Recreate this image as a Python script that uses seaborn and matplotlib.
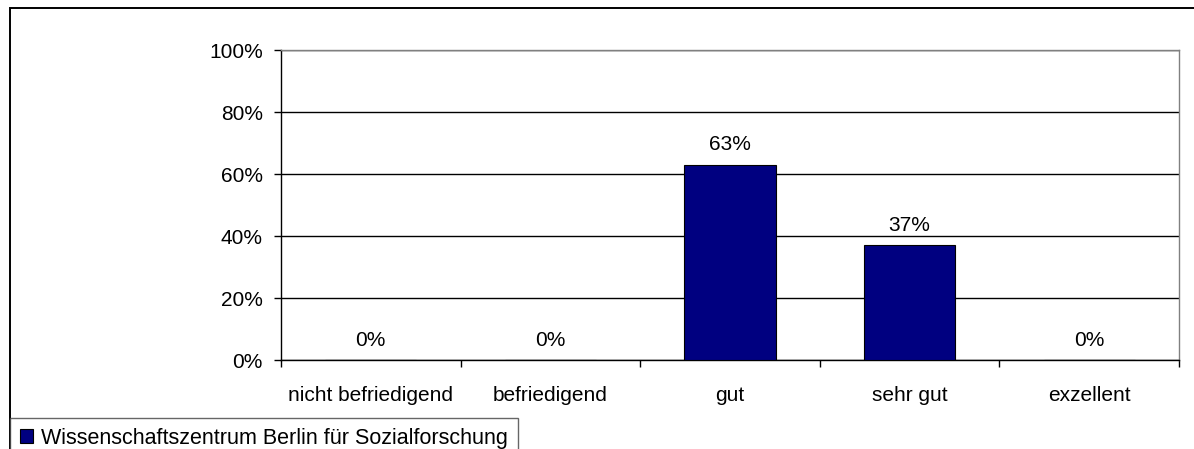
import matplotlib
matplotlib.use("Agg")
import matplotlib.pyplot as plt
from matplotlib.patches import Patch, Rectangle
import seaborn as sns
import pandas as pd

# Rating categories and share of responses (%)
categories = ["nicht befriedigend", "befriedigend", "gut", "sehr gut", "exzellent"]
shares = [0, 0, 63, 37, 0]
series_name = "Wissenschaftszentrum Berlin für Sozialforschung"
y_ticks = [0, 20, 40, 60, 80, 100]
y_tick_labels = [f"{v}%" for v in y_ticks]

sns.set_style("white")
plt.rcParams["font.family"] = ["Liberation Sans", "DejaVu Sans"]
plt.rcParams["text.color"] = "black"
plt.rcParams["xtick.labelcolor"] = "black"
plt.rcParams["ytick.labelcolor"] = "black"

W, H = 1194, 449
fig = plt.figure(figsize=(W / 100, H / 100), dpi=100)

# outer chart frame
fig.patches.append(Rectangle((10 / W, -0.2), 2.0, 1.2 - 8 / H, transform=fig.transFigure,
                             fill=False, edgecolor="black", linewidth=1.4, zorder=0))

ax = fig.add_axes([281 / W, 1 - 360 / H, (1179 - 281) / W, (360 - 50) / H])
df = pd.DataFrame({"Kategorie": categories, "Anteil": shares})
sns.barplot(data=df, x="Kategorie", y="Anteil", color="#000080", saturation=1,
            width=0.507, edgecolor="black", linewidth=0.8, ax=ax, zorder=3)

ax.set_xlim(-0.5, len(categories) - 0.5)
ax.set_ylim(0, 100)
ax.set_xlabel("")
ax.set_ylabel("")

# y axis
ax.set_yticks(y_ticks)
ax.set_yticklabels(y_tick_labels, fontsize=15, color="black")
ax.yaxis.grid(True, color="black", linewidth=1.0)
ax.set_axisbelow(True)
ax.tick_params(axis="y", which="major", direction="out", length=5, width=1,
               color="black", pad=8, left=True)

# x axis: ticks on category boundaries, labels centred under categories
ax.set_xticks([i - 0.5 for i in range(len(categories) + 1)])
ax.set_xticklabels([])
ax.set_xticks(range(len(categories)), minor=True)
ax.set_xticklabels(categories, minor=True, fontsize=15, color="black")
ax.tick_params(axis="x", which="major", direction="out", length=5, width=1,
               color="black", bottom=True)
ax.tick_params(axis="x", which="minor", length=0, pad=19)

for side in ("left", "bottom"):
    ax.spines[side].set_color("black")
    ax.spines[side].set_linewidth(1.0)
for side in ("top", "right"):
    ax.spines[side].set_visible(True)
    ax.spines[side].set_color("#808080")
    ax.spines[side].set_linewidth(1.0)

# value labels
for i, v in enumerate(shares):
    ax.annotate(f"{v}%", (i, v), xytext=(0, 20), textcoords="offset pixels",
                ha="center", va="center", fontsize=15, color="black")

# legend
handle = Patch(facecolor="#000080", edgecolor="black", linewidth=0.8)
leg = fig.legend(handles=[handle], labels=[series_name], loc="upper left",
                 bbox_to_anchor=(10 / W, 1 - 418 / H), bbox_transform=fig.transFigure,
                 frameon=True, fancybox=False, edgecolor="#404040", borderaxespad=0,
                 borderpad=0.45, handlelength=0.6, handleheight=0.6,
                 handletextpad=0.4, fontsize=15.5)
leg.get_frame().set_linewidth(1.0)

fig.savefig("out.png", dpi=100)
